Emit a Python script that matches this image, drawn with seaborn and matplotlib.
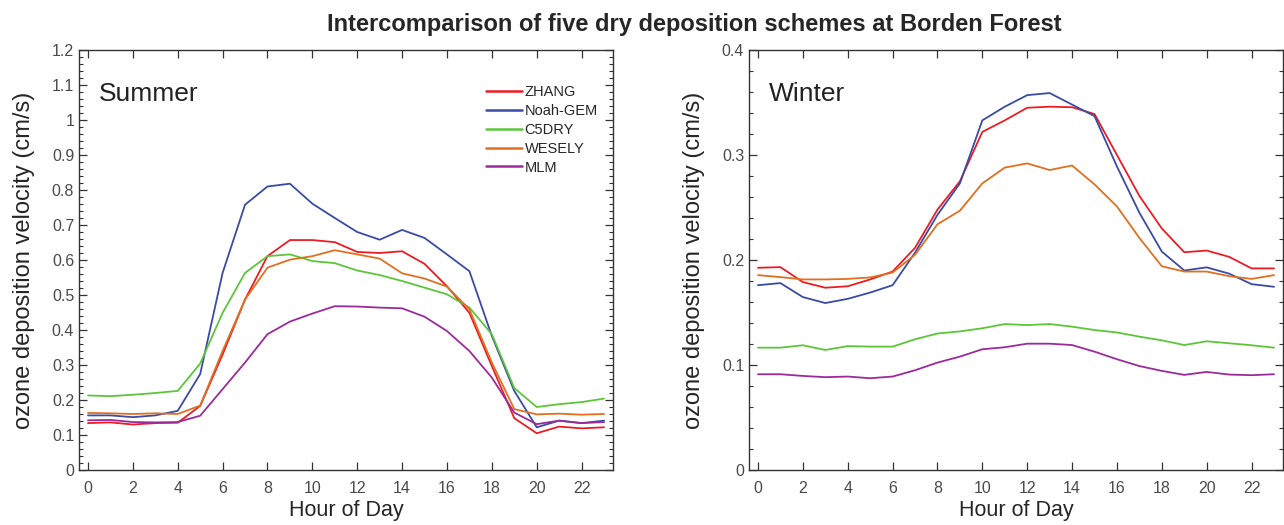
import numpy as np
import pandas as pd
import matplotlib
matplotlib.use('Agg')
import matplotlib.pyplot as plt
from matplotlib.ticker import MultipleLocator
import seaborn as sns

# Data (ozone deposition velocity, cm/s)
hours = list(range(24))
schemes = ['ZHANG', 'Noah-GEM', 'C5DRY', 'WESELY', 'MLM']

summer_zhang = [0.134, 0.136, 0.130, 0.134, 0.135, 0.183, 0.330, 0.487, 0.611, 0.657, 0.657, 0.651,
                0.623, 0.620, 0.625, 0.589, 0.525, 0.449, 0.297, 0.148, 0.105, 0.124, 0.119, 0.122]
summer_noah = [0.156, 0.156, 0.151, 0.156, 0.169, 0.274, 0.563, 0.758, 0.810, 0.818, 0.761, 0.720,
               0.680, 0.658, 0.686, 0.663, 0.616, 0.568, 0.383, 0.226, 0.122, 0.141, 0.134, 0.141]
summer_c5dry = [0.213, 0.211, 0.215, 0.220, 0.226, 0.304, 0.449, 0.563, 0.611, 0.616, 0.597, 0.591,
                0.570, 0.557, 0.540, 0.521, 0.502, 0.464, 0.388, 0.234, 0.180, 0.188, 0.194, 0.204]
summer_wesely = [0.163, 0.162, 0.160, 0.162, 0.160, 0.184, 0.340, 0.487, 0.578, 0.601, 0.611, 0.628,
                 0.616, 0.604, 0.562, 0.547, 0.524, 0.459, 0.307, 0.174, 0.159, 0.161, 0.158, 0.160]
summer_mlm = [0.142, 0.143, 0.137, 0.136, 0.137, 0.155, 0.231, 0.307, 0.388, 0.424, 0.447, 0.468,
              0.467, 0.464, 0.462, 0.438, 0.397, 0.340, 0.264, 0.164, 0.131, 0.141, 0.134, 0.137]

winter_zhang = [0.1926, 0.1932, 0.179, 0.1736, 0.175, 0.1815, 0.189, 0.2116, 0.248, 0.275, 0.322, 0.333,
                0.345, 0.346, 0.3455, 0.339, 0.300, 0.261, 0.230, 0.2074, 0.209, 0.203, 0.192, 0.192]
winter_noah = [0.176, 0.178, 0.1647, 0.159, 0.163, 0.169, 0.176, 0.207, 0.243, 0.273, 0.333, 0.346,
               0.357, 0.359, 0.348, 0.337, 0.289, 0.245, 0.208, 0.190, 0.193, 0.187, 0.177, 0.1745]
winter_c5dry = [0.1165, 0.1165, 0.1188, 0.1143, 0.118, 0.1175, 0.1175, 0.1245, 0.130, 0.132, 0.135, 0.139,
                0.138, 0.139, 0.1365, 0.1333, 0.131, 0.127, 0.1235, 0.119, 0.1226, 0.1207, 0.1188, 0.1165]
winter_wesely = [0.1856, 0.1837, 0.1815, 0.1815, 0.182, 0.1834, 0.188, 0.205, 0.234, 0.247, 0.273, 0.288,
                 0.292, 0.2857, 0.290, 0.272, 0.251, 0.221, 0.194, 0.189, 0.189, 0.1846, 0.182, 0.1856]
winter_mlm = [0.0912, 0.0912, 0.0896, 0.0884, 0.089, 0.0874, 0.089, 0.095, 0.1023, 0.108, 0.115, 0.1169,
              0.1203, 0.1203, 0.119, 0.1127, 0.1055, 0.099, 0.0944, 0.0906, 0.0934, 0.0909, 0.0903, 0.0912]

colors = {'ZHANG': '#ec1c24', 'Noah-GEM': '#3a4ba6', 'C5DRY': '#5cc53a',
          'WESELY': '#e07020', 'MLM': '#9d2a9a'}


def to_long(series):
    frames = []
    for name, vals in zip(schemes, series):
        frames.append(pd.DataFrame({'hour': hours, 'vd': vals, 'scheme': name}))
    return pd.concat(frames, ignore_index=True)


df_summer = to_long([summer_zhang, summer_noah, summer_c5dry, summer_wesely, summer_mlm])
df_winter = to_long([winter_zhang, winter_noah, winter_c5dry, winter_wesely, winter_mlm])

sns.set_theme(style="ticks")
plt.rcParams['font.family'] = ['Liberation Sans', 'DejaVu Sans']

fig = plt.figure(figsize=(12.84, 5.25), dpi=100)
ax1 = fig.add_axes([79 / 1284, 1 - 470 / 525, 534 / 1284, 420 / 525])
ax2 = fig.add_axes([749 / 1284, 1 - 470 / 525, 534 / 1284, 420 / 525])

# y tick labels in the reference drop trailing zeros (1, not 1.0)
fmt = plt.FuncFormatter(lambda v, p: f'{v:.1f}'.rstrip('0').rstrip('.'))

panels = [(ax1, df_summer, 'Summer', 1.2, True), (ax2, df_winter, 'Winter', 0.4, False)]
for ax, df, label, ymax, show_legend in panels:
    sns.lineplot(data=df, x='hour', y='vd', hue='scheme', hue_order=schemes,
                 palette=colors, linewidth=1.3, ax=ax, legend=show_legend)
    ax.set_xlim(-0.4, 23.4)
    ax.set_ylim(0, ymax)
    ax.set_xticks(range(0, 23, 2))
    ax.yaxis.set_major_locator(MultipleLocator(0.1))
    ax.yaxis.set_minor_locator(MultipleLocator(0.02))
    ax.yaxis.set_major_formatter(fmt)
    ax.tick_params(which='both', direction='in', top=True, right=True,
                   color='#333333', labelcolor='#4a4a4a', labelsize=11.5)
    ax.tick_params(which='major', length=6, width=0.9)
    ax.tick_params(which='minor', length=3, width=0.8)
    ax.tick_params(axis='x', pad=8)
    for sp in ax.spines.values():
        sp.set_color('#333333')
        sp.set_linewidth(1.0)
    ax.set_xlabel('Hour of Day', fontsize=15.5, labelpad=3)
    ax.set_ylabel('ozone deposition velocity (cm/s)', fontsize=17, labelpad=12)
    ax.text(0.038, 0.895, label, transform=ax.transAxes, fontsize=19,
            va='center', ha='left', color='#222222')

leg = ax1.legend(loc='upper left', bbox_to_anchor=(0.762, 0.916), frameon=False,
                 fontsize=10.5, handlelength=2.5, handletextpad=0.15,
                 labelspacing=0.33, borderpad=0, borderaxespad=0)
for line in leg.get_lines():
    line.set_linewidth(1.8)

fig.text(0.5405, 1 - 25 / 525, 'Intercomparison of five dry deposition schemes at Borden Forest',
         ha='center', va='center', fontsize=17, fontweight='bold')

fig.savefig('out.png', dpi=100)
